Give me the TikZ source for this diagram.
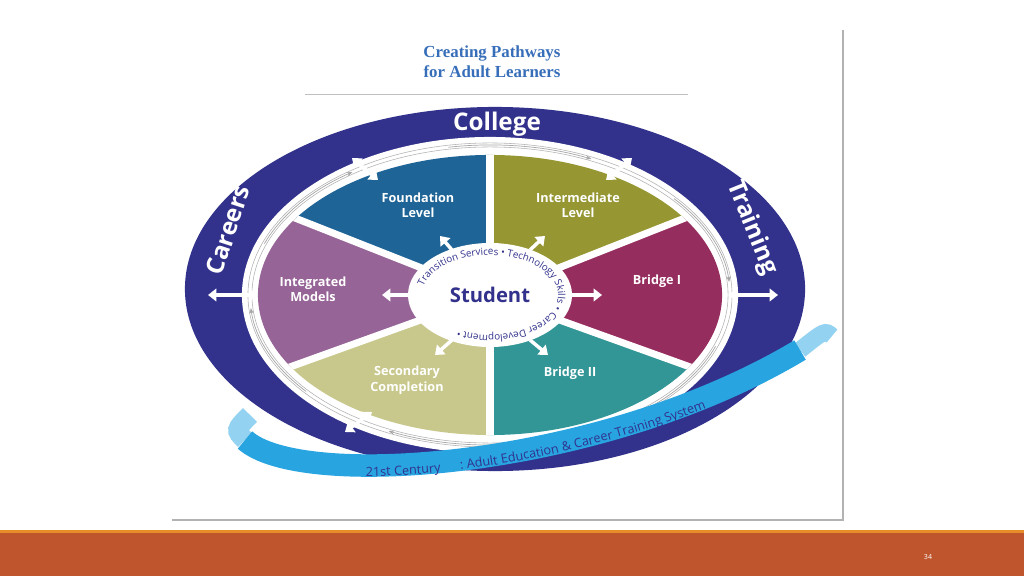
\documentclass[tikz,border=0pt]{standalone}
\usepackage{fontspec}
\setmainfont{Open Sans}
\newfontfamily\titlefont{Liberation Serif}
\usetikzlibrary{arrows.meta,decorations.text}
\definecolor{ringCol}{RGB}{50,50,140}
\definecolor{titleCol}{RGB}{55,110,185}
\definecolor{foundCol}{RGB}{30,100,150}
\definecolor{interCol}{RGB}{150,150,50}
\definecolor{bridgeOneCol}{RGB}{150,45,95}
\definecolor{bridgeTwoCol}{RGB}{50,150,150}
\definecolor{secCol}{RGB}{200,200,140}
\definecolor{integCol}{RGB}{150,100,150}
\definecolor{ribbonCol}{RGB}{40,165,225}
\definecolor{barCol}{RGB}{190,85,45}
\definecolor{barLineCol}{RGB}{230,140,40}
\tikzset{myLabel/.style={white, font=\bfseries\small, align=center}}
\tikzset{myRingLabel/.style={white, font=\bfseries\LARGE}}
\tikzset{myWhiteArrow/.style={white, line width=2.5pt, {Triangle[width=9pt,length=6pt]}-{Triangle[width=9pt,length=6pt]}}}
\tikzset{myOutArrow/.style={white, line width=2.5pt, -{Triangle[width=9pt,length=6pt]}}}
\tikzset{myGrayArrow/.style={gray!70, line width=0.5pt, -{Stealth[length=4pt]}}}

\begin{document}
\begin{tikzpicture}[x=0.025cm,y=-0.025cm]
	\useasboundingbox (0,0) rectangle (1024,576);
	\fill[white](0,0) rectangle (1024,576);
	% slide frame
	\draw[gray!60, line width=1pt](843,30)--(843,520)--(172,520);
	\fill[barCol](0,533) rectangle (1024,576);
	\fill[barLineCol](0,530) rectangle (1024,533);
	\node[white, font=\tiny] (page) at (928,557) {34};
	% title
	\node[titleCol, font=\titlefont\bfseries\large, align=center] (title) at (492,62) {Creating Pathways\\for Adult Learners};
	\draw[gray!50](305,94)--(688,94);

	% ribbon behind
	\draw[ribbonCol!50, line width=14pt](250,415) .. controls (235,430) .. (245,440);
	\draw[ribbonCol!50, line width=12pt](800,350) .. controls (825,330) .. (832,336);

	% wheel
	\fill[ringCol](495,289) ellipse [x radius=7.75cm, y radius=4.55cm];
	\fill[white](490,295) ellipse [x radius=6.2cm, y radius=3.95cm];
	\draw[gray!60](490,295) ellipse [x radius=6.05cm, y radius=3.8cm];
	\draw[gray!60](490,295) ellipse [x radius=5.95cm, y radius=3.7cm];
	\begin{scope}
		\clip(490,295) ellipse [x radius=5.8cm, y radius=3.5cm];
		\fill[foundCol](490,295)--(490,0)--(-80,70)--cycle;
		\fill[interCol](490,295)--(490,0)--(1060,70)--cycle;
		\fill[bridgeOneCol](490,295)--(1060,70)--(1060,500)--cycle;
		\fill[bridgeTwoCol](490,295)--(1060,500)--(490,600)--cycle;
		\fill[secCol](490,295)--(490,600)--(-80,500)--cycle;
		\fill[integCol](490,295)--(-80,500)--(-80,70)--cycle;
		\draw[white, line width=5pt](490,295)--(490,0);
		\draw[white, line width=5pt](490,295)--(-80,70);
		\draw[white, line width=5pt](490,295)--(1060,70);
		\draw[white, line width=5pt](490,295)--(-80,500);
		\draw[white, line width=5pt](490,295)--(1060,500);
		\draw[white, line width=5pt](490,295)--(490,600);
	\end{scope}

	% gray arrows on the ring
	\foreach \a in {100,160,220,280,340,40}
		\draw[myGrayArrow](490,295) ++(\a:6cm and 3.75cm) arc[start angle=\a, end angle=\a-35, x radius=6cm, y radius=3.75cm];

	% student circle
	\fill[white](490,295) ellipse [x radius=2.05cm, y radius=1.3cm];
	\node[ringCol, font=\bfseries\Large] (student) at (490,295) {Student};
	\path[decorate, decoration={text along path, text align=center, text color=ringCol,
		text={|\scriptsize|Transition Services {\textbullet} Technology Skills {\textbullet} Career Development {\textbullet}}}]
		(490,295) ++(205:1.7cm and 1.0cm) arc[start angle=205, end angle=-145, x radius=1.7cm, y radius=1.0cm];

	% arrows from student
	\draw[myOutArrow](412,295)--(382,295);
	\draw[myOutArrow](570,295)--(602,295);
	\draw[myOutArrow](452,250)--(440,236);
	\draw[myOutArrow](530,250)--(545,236);
	\draw[myOutArrow](452,340)--(435,355);
	\draw[myOutArrow](530,340)--(548,355);

	% arrows to the outer ring
	\draw[myWhiteArrow](208,295)--(258,295);
	\draw[myWhiteArrow](778,295)--(728,295);
	\draw[myWhiteArrow](352,158)--(378,180);
	\draw[myWhiteArrow](632,158)--(606,180);
	\draw[myWhiteArrow](345,432)--(372,412);

	% segment labels
	\node[myLabel] (found) at (418,205) {Foundation\\Level};
	\node[myLabel] (inter) at (578,205) {Intermediate\\Level};
	\node[myLabel] (integ) at (313,289) {Integrated\\Models};
	\node[myLabel] (bridgeOne) at (657,281) {Bridge I};
	\node[myLabel] (sec) at (407,380) {Secondary\\Completion};
	\node[myLabel] (bridgeTwo) at (570,373) {Bridge II};

	% ring labels
	\node[myRingLabel] (college) at (497,124) {College};
	\node[myRingLabel, rotate=72] (careers) at (228,230) {Careers};
	\node[myRingLabel, rotate=-68] (training) at (752,228) {Training};

	% ribbon in front
	\draw[ribbonCol, line width=16pt](245,440) .. controls (300,490) and (600,470) .. (800,350);
	\path[decorate, decoration={text along path, text align=center, text color=ringCol, raise=-3pt,
		text={|\small|21st Century{\hspace{14pt}}: Adult Education {\&} Career Training System}}]
		(258,452) .. controls (310,495) and (600,472) .. (805,357);
\end{tikzpicture}
\end{document}
